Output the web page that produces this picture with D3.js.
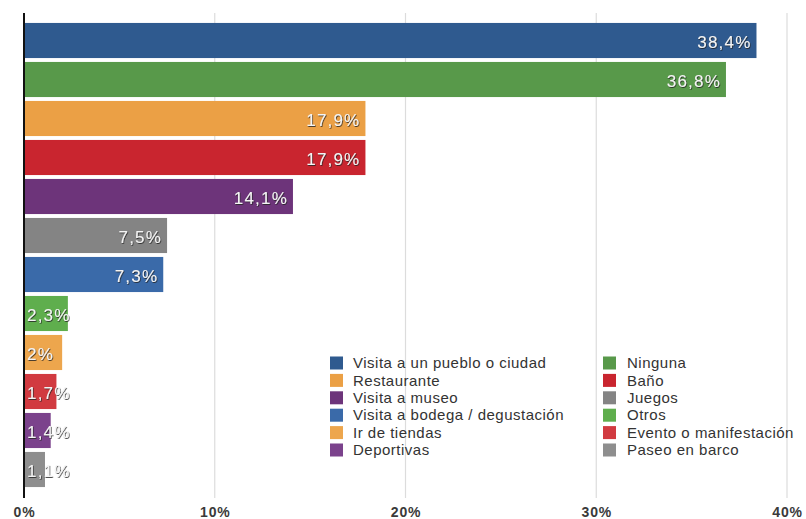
<!DOCTYPE html>
<html>
<head>
<meta charset="utf-8">
<script src="https://cdn.jsdelivr.net/npm/d3@7"></script>
<style>
  html, body { margin: 0; padding: 0; background: #fff; }
  svg { display: block; font-family: "Liberation Sans", Arial, Helvetica, sans-serif; }
</style>
</head>
<body>
<svg id="chart" width="806" height="519"></svg>
<script>
// Actividades realizadas (%), ordered from largest to smallest
const categories = [
  "Visita a un pueblo o ciudad", "Ninguna", "Restaurante", "Baño",
  "Visita a museo", "Juegos", "Visita a bodega / degustación", "Otros",
  "Ir de tiendas", "Evento o manifestación", "Deportivas", "Paseo en barco"
];
const values = [38.4, 36.8, 17.9, 17.9, 14.1, 7.5, 7.3, 2.3, 2, 1.7, 1.4, 1.1];
const valueLabels = ["38,4%", "36,8%", "17,9%", "17,9%", "14,1%", "7,5%", "7,3%", "2,3%", "2%", "1,7%", "1,4%", "1,1%"];
const colors = [
  "#2f5a8f", "#58994a", "#eba045", "#c9252f", "#6d347a", "#848484",
  "#3a6aa9", "#5fae4d", "#eda64d", "#d13a40", "#7b428c", "#8e8e8e"
];
const xTicks = [0, 10, 20, 30, 40];
const legendCol1 = ["Visita a un pueblo o ciudad", "Restaurante", "Visita a museo",
  "Visita a bodega / degustación", "Ir de tiendas", "Deportivas"];
const legendCol2 = ["Ninguna", "Baño", "Juegos", "Otros", "Evento o manifestación", "Paseo en barco"];

const svg = d3.select("#chart");

const x = d3.scaleLinear().domain([0, 40]).range([24, 787]);
const y = d3.scaleBand().domain(categories).range([21, 489]).paddingInner(0.1).paddingOuter(0.05);

// soft shadow behind the value labels
const defs = svg.append("defs");
const f = defs.append("filter").attr("id", "shadow").attr("x", "-20%").attr("y", "-30%")
  .attr("width", "140%").attr("height", "160%");
f.append("feDropShadow").attr("dx", 0.7).attr("dy", 0.9).attr("stdDeviation", 0.7)
  .attr("flood-color", "#222").attr("flood-opacity", 0.9);

// vertical gridlines
svg.append("g").selectAll("line").data(xTicks.slice(1)).join("line")
  .attr("x1", d => x(d)).attr("x2", d => x(d))
  .attr("y1", 13).attr("y2", 498)
  .attr("stroke", "#dcdcdc").attr("stroke-width", 1.2);

// bars
svg.append("g").selectAll("rect").data(values).join("rect")
  .attr("x", x(0))
  .attr("y", (d, i) => y(categories[i]))
  .attr("width", d => x(d) - x(0))
  .attr("height", y.bandwidth())
  .attr("fill", (d, i) => colors[i]);

// value labels: inside right end for long bars, from the axis for short ones
svg.append("g").selectAll("text").data(values).join("text")
  .attr("x", d => d >= 5 ? x(d) - 5 : x(0) + 3)
  .attr("y", (d, i) => y(categories[i]) + y.bandwidth() / 2 + 1.5)
  .attr("dy", "0.36em")
  .attr("text-anchor", d => d >= 5 ? "end" : "start")
  .attr("fill", "#f4f4f4")
  .attr("font-size", 17)
  .attr("letter-spacing", 1.2)
  .attr("filter", "url(#shadow)")
  .text((d, i) => valueLabels[i]);

// x axis tick labels
const xAxis = d3.axisBottom(x).tickValues(xTicks).tickFormat(d => d + "%").tickSize(0);
const gx = svg.append("g").attr("transform", "translate(0,504)").call(xAxis);
gx.select(".domain").remove();
gx.selectAll("text")
  .attr("font-size", 14).attr("font-weight", "bold").attr("fill", "#3a3a3a")
  .attr("font-family", "Liberation Sans, Arial, sans-serif")
  .attr("letter-spacing", 0.8);

// left axis line
svg.append("line")
  .attr("x1", x(0)).attr("x2", x(0)).attr("y1", 13).attr("y2", 498)
  .attr("stroke", "#111").attr("stroke-width", 2);

// legend
const colorOf = c => colors[categories.indexOf(c)];
function legendColumn(items, sx, tx) {
  const g = svg.append("g");
  items.forEach((c, i) => {
    const cy = 363 + i * 17.4;
    g.append("rect").attr("x", sx).attr("y", cy - 6.5).attr("width", 13).attr("height", 13)
      .attr("fill", colorOf(c));
    g.append("text").attr("x", tx).attr("y", cy).attr("dy", "0.35em")
      .attr("font-size", 15).attr("letter-spacing", 0.5).attr("fill", "#333").text(c);
  });
}
legendColumn(legendCol1, 330, 353);
legendColumn(legendCol2, 603, 627);
</script>
</body>
</html>
